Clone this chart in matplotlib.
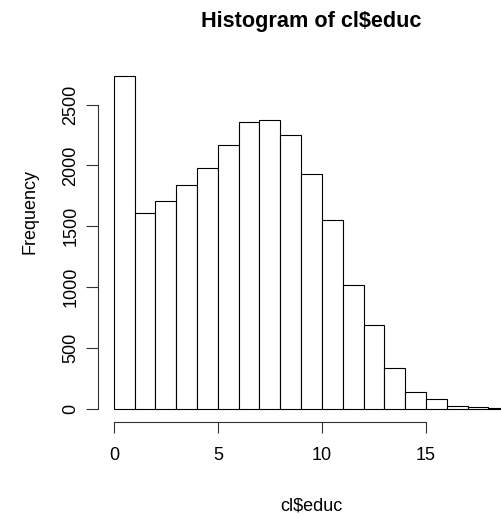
import matplotlib
matplotlib.use("Agg")
import matplotlib.pyplot as plt

# bin edges (width 1) and counts
breaks = list(range(0, 20))
counts = [2732, 1610, 1706, 1841, 1980, 2167, 2353, 2373, 2252, 1931,
          1555, 1018, 686, 335, 140, 77, 19, 10, 3]
xticks = [0, 5, 10, 15]
yticks = [0, 500, 1000, 1500, 2000, 2500]

plt.rcParams['font.family'] = ['Liberation Sans', 'DejaVu Sans']
plt.rcParams['font.size'] = 13

W, H = 502, 518
fig = plt.figure(figsize=(W / 100, H / 100), dpi=100)

# plot region in pixels (right edge runs past the image, like the source)
left, right, top, bottom = 98, 525, 63, 422
ax = fig.add_axes([left / W, (H - bottom) / H, (right - left) / W, (bottom - top) / H])

ax.bar(breaks[:-1], counts, width=1, align='edge', color='white',
       edgecolor='black', linewidth=0.8)

lo, hi = breaks[0], breaks[-1]
ax.set_xlim(lo - 0.04 * (hi - lo), hi + 0.04 * (hi - lo))
ymax = max(counts)
ax.set_ylim(-0.04 * ymax, ymax * 1.04)

for s in ['top', 'right']:
    ax.spines[s].set_visible(False)
ax.spines['left'].set_bounds(yticks[0], yticks[-1])
ax.spines['bottom'].set_bounds(xticks[0], xticks[-1])
for s in ['left', 'bottom']:
    ax.spines[s].set_linewidth(0.8)
    ax.spines[s].set_color('#333333')

ax.set_xticks(xticks)
ax.set_yticks(yticks)
ax.tick_params(axis='x', length=8.1, width=0.8, color='#333333', pad=9.6)
ax.tick_params(axis='y', length=8.9, width=0.8, color='#333333', pad=4.5)
for lab in ax.get_yticklabels():
    lab.set_rotation(90)
    lab.set_va('center')

def px(x, y):
    return x / W, 1 - y / H

fig.text(*px(311.5, 26.5), 'Histogram of cl$educ', ha='center', va='baseline',
         fontsize=15.6, fontweight='bold')
fig.text(*px(311.5, 510), 'cl$educ', ha='center', va='baseline')
fig.text(*px(30, 250), 'Frequency', ha='center', va='baseline', rotation=90)

fig.savefig('out.png', dpi=100)
